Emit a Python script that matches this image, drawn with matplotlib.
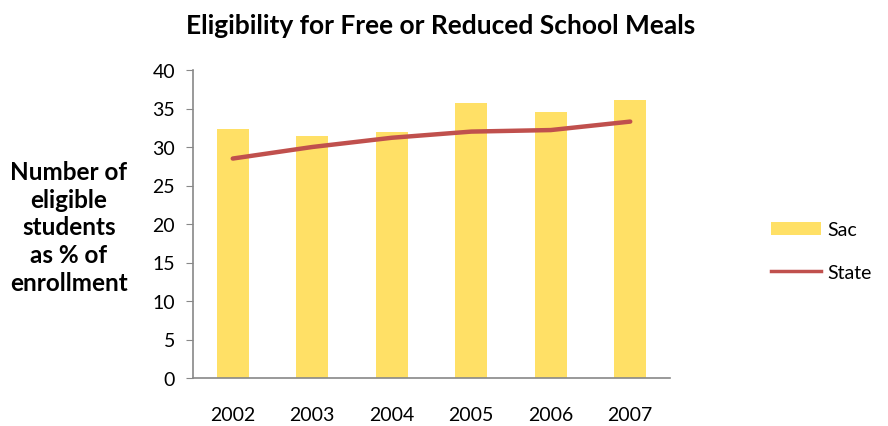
""" Eligibility for free or reduced school meals, Sac vs State """

import matplotlib
matplotlib.use('Agg')
import matplotlib.pyplot as plt
from matplotlib.patches import Patch
from matplotlib.lines import Line2D

DPI = 100

years = ['2002', '2003', '2004', '2005', '2006', '2007']
sac = [32.3, 31.4, 31.9, 35.75, 34.5, 36.1]
state = [28.5, 30.0, 31.2, 32.0, 32.2, 33.3]

BAR = '#FFE066'
LINE = '#C0504D'

plt.rcParams['font.family'] = ['Lato', 'DejaVu Sans']

fig = plt.figure(figsize=(888 / DPI, 427 / DPI), dpi=DPI)
axes = fig.add_axes([193 / 888, 1 - 379 / 427, 477 / 888, 308 / 427])

xs = list(range(len(years)))
axes.bar(xs, sac, width=0.4, color=BAR, zorder=1)
axes.plot(xs, state, color=LINE, linewidth=3.2, solid_capstyle='round', zorder=2)

axes.set_xlim(-0.5, len(years) - 0.5)
axes.set_ylim(0, 40)
axes.set_yticks(range(0, 41, 5))
axes.set_xticks(xs)
axes.set_xticklabels(years)
axes.tick_params(axis='y', length=5, color='#888888', labelsize=14, pad=8)
axes.tick_params(axis='x', length=0, labelsize=14, pad=20)
for side in ('top', 'right'):
    axes.spines[side].set_visible(False)
for side in ('left', 'bottom'):
    axes.spines[side].set_color('#888888')
    axes.spines[side].set_linewidth(1.2)

fig.text(441 / 888, 1 - 26 / 427, 'Eligibility for Free or Reduced School Meals',
         ha='center', va='center', fontsize=19, fontweight='bold')
fig.text(69 / 888, 1 - 228 / 427,
         'Number of\neligible\nstudents\nas % of\nenrollment',
         ha='center', va='center', fontsize=17.5, fontweight='bold',
         linespacing=1.24)

handles = [Patch(facecolor=BAR, edgecolor='none', label='Sac'),
           Line2D([], [], color=LINE, linewidth=2.5, label='State')]
fig.legend(handles=handles, loc='center left',
           bbox_to_anchor=(753 / 888, 1 - 252 / 427), frameon=False,
           fontsize=14, handlelength=2.6, handleheight=0.7,
           labelspacing=1.3, handletextpad=0.3)

fig.savefig('out.png', dpi=DPI)
